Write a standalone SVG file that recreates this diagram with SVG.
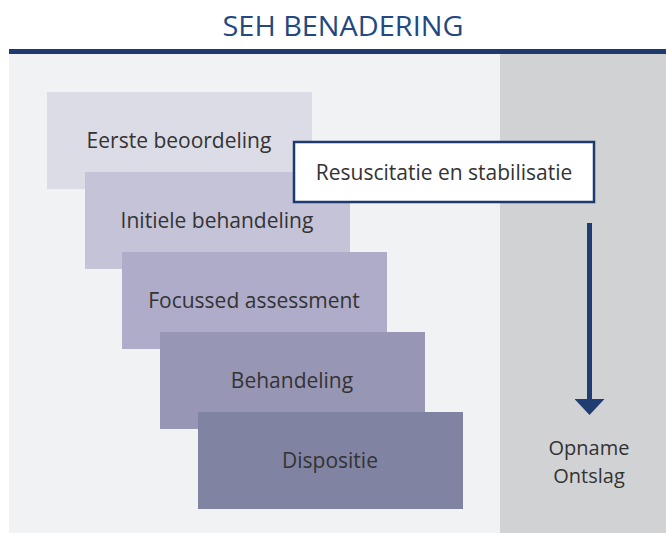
<svg xmlns="http://www.w3.org/2000/svg" width="666" height="533" viewBox="0 0 666 533">
<defs>
<style>
.lbl{font-family:"Open Sans","Liberation Sans","DejaVu Sans",sans-serif;font-size:21px;fill:#333333;text-anchor:middle}
.out{font-size:20px}
.step{stroke:none}
</style>
<marker id="ah" viewBox="0 0 16 30" refX="0" refY="15" markerWidth="16" markerHeight="30" markerUnits="userSpaceOnUse" orient="auto">
<path d="M0,0 L16,15 L0,30 Z" fill="#1f3d70"/>
</marker>
</defs>
<rect x="0" y="0" width="666" height="533" fill="#ffffff"/>
<text x="343" y="36" font-family="Open Sans, Liberation Sans, DejaVu Sans, sans-serif" font-size="28" fill="#24487f" text-anchor="middle" textLength="241" lengthAdjust="spacingAndGlyphs">SEH BENADERING</text>
<rect x="9" y="49" width="657" height="5" fill="#1f3a6e"/>
<rect x="9" y="54" width="491" height="479" fill="#f1f2f4"/>
<rect x="500" y="54" width="166" height="479" fill="#d1d2d4"/>
<g id="eerste"><rect class="step" x="47" y="92" width="265" height="97" fill="#dcdce6"/><text class="lbl" x="179" y="148">Eerste beoordeling</text></g>
<g id="initiele"><rect class="step" x="85" y="172" width="265" height="97" fill="#c5c3d7"/><text class="lbl" x="217" y="228">Initiele behandeling</text></g>
<g id="focussed"><rect class="step" x="122" y="252" width="265" height="97" fill="#aeacc8"/><text class="lbl" x="254" y="308">Focussed assessment</text></g>
<g id="behandeling"><rect class="step" x="160" y="332" width="265" height="97" fill="#9896b5"/><text class="lbl" x="292" y="388">Behandeling</text></g>
<g id="dispositie"><rect class="step" x="198" y="412" width="265" height="97" fill="#8183a3"/><text class="lbl" x="330" y="468">Dispositie</text></g>
<g id="resuscitatie"><rect x="294" y="142" width="300" height="60" fill="#ffffff" stroke="#1f3a6e" stroke-width="2.5"/><text class="lbl" x="444" y="180">Resuscitatie en stabilisatie</text></g>
<g id="connectors"><line x1="589.5" y1="223" x2="589.5" y2="399" stroke="#1f3d70" stroke-width="5" marker-end="url(#ah)"/></g>
<g id="uitkomst"><text class="lbl out" x="589" y="455">Opname</text><text class="lbl out" x="589" y="483">Ontslag</text></g>
</svg>
